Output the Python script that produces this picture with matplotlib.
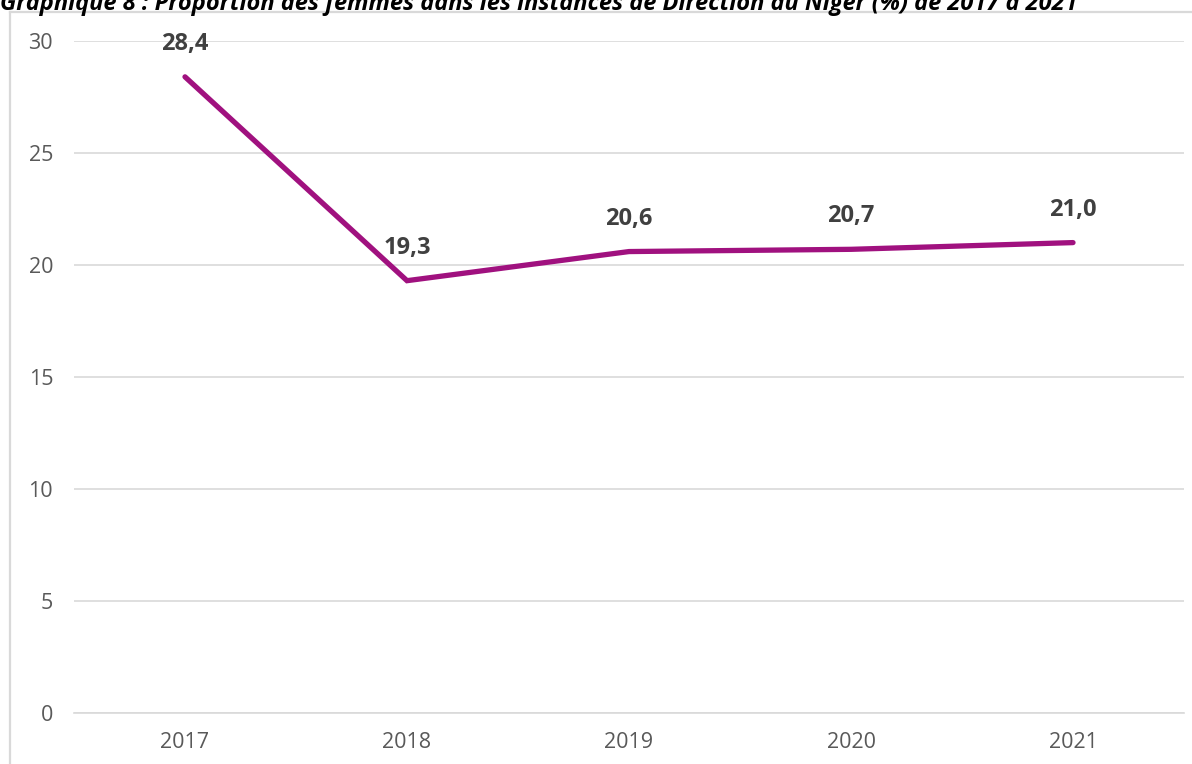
import matplotlib
matplotlib.use("Agg")
import matplotlib.pyplot as plt
from matplotlib.lines import Line2D

years = ["2017", "2018", "2019", "2020", "2021"]
values = [28.4, 19.3, 20.6, 20.7, 21.0]
labels = ["28,4", "19,3", "20,6", "20,7", "21,0"]
yticks = [0, 5, 10, 15, 20, 25, 30]
title = "Graphique 8 : Proportion des femmes dans les instances de Direction au Niger (%) de 2017 à 2021"

W, H = 1192, 764
fig = plt.figure(figsize=(W / 100, H / 100), dpi=100)
fig.patch.set_facecolor("white")

# chart border
grey = "#d9d9d9"
fig.add_artist(Line2D([10 / W, 10 / W], [0, 1 - 12 / H], transform=fig.transFigure, color=grey, lw=1.6))
fig.add_artist(Line2D([10 / W, 1], [1 - 12 / H, 1 - 12 / H], transform=fig.transFigure, color=grey, lw=1.6))

fig.text(0.0, 1 - 10 / H, title, ha="left", va="baseline", fontsize=17,
         fontweight="bold", fontstyle="italic", family="Open Sans", color="black")

ax = fig.add_axes([74 / W, 1 - 713 / H, (1184 - 74) / W, (713 - 41) / H])
x = list(range(len(years)))
ax.plot(x, values, color="#A0117F", lw=3.8, solid_capstyle="round", solid_joinstyle="miter", zorder=3)
for xi, v, lab in zip(x, values, labels):
    ax.annotate(lab, (xi, v), xytext=(0, 15), textcoords="offset points", ha="center", va="bottom",
                fontsize=17, fontweight="bold", color="#404040", family="Open Sans", zorder=4)

ax.set_xlim(-0.5, len(years) - 0.5)
ax.set_ylim(0, 30)
ax.set_xticks(x)
ax.set_xticklabels(years)
ax.set_yticks(yticks)
ax.set_yticklabels([str(t) for t in yticks])
ax.grid(axis="y", color=grey, lw=1.2)
ax.set_axisbelow(True)
for s in ["top", "right", "left"]:
    ax.spines[s].set_visible(False)
ax.spines["bottom"].set_color(grey)
ax.spines["bottom"].set_linewidth(1.2)
ax.tick_params(axis="both", length=0, labelsize=15.5, labelcolor="#595959")
ax.tick_params(axis="y", pad=15)
ax.tick_params(axis="x", pad=14)
for t in ax.get_xticklabels() + ax.get_yticklabels():
    t.set_family("Open Sans")

fig.savefig("out.png", dpi=100)
